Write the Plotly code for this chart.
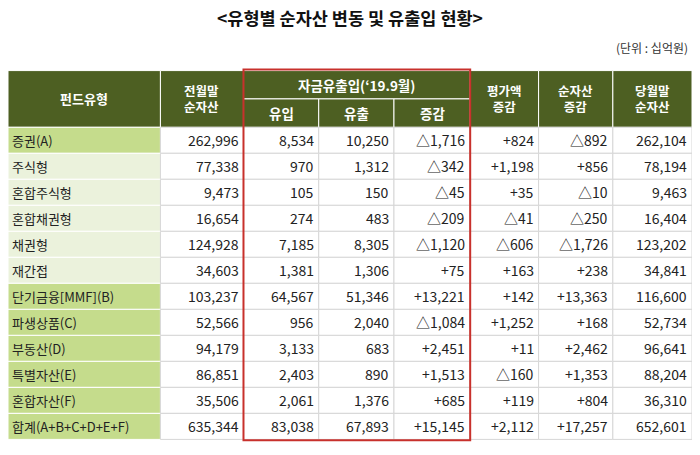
import plotly.graph_objects as go

title = "<유형별 순자산 변동 및 유출입 현황>"
unit = "(단위 : 십억원)"

fund_types = ["증권(A)", "주식형", "혼합주식형", "혼합채권형", "채권형", "재간접",
              "단기금융[MMF](B)", "파생상품(C)", "부동산(D)", "특별자산(E)",
              "혼합자산(F)", "합계(A+B+C+D+E+F)"]
is_main = [True, False, False, False, False, False, True, True, True, True, True, True]
prev_nav = ["262,996", "77,338", "9,473", "16,654", "124,928", "34,603",
            "103,237", "52,566", "94,179", "86,851", "35,506", "635,344"]
inflow = ["8,534", "970", "105", "274", "7,185", "1,381",
          "64,567", "956", "3,133", "2,403", "2,061", "83,038"]
outflow = ["10,250", "1,312", "150", "483", "8,305", "1,306",
           "51,346", "2,040", "683", "890", "1,376", "67,893"]
net_flow = ["△1,716", "△342", "△45", "△209", "△1,120", "+75",
            "+13,221", "△1,084", "+2,451", "+1,513", "+685", "+15,145"]
valuation = ["+824", "+1,198", "+35", "△41", "△606", "+163",
             "+142", "+1,252", "+11", "△160", "+119", "+2,112"]
nav_change = ["△892", "+856", "△10", "△250", "△1,726", "+238",
              "+13,363", "+168", "+2,462", "+1,353", "+804", "+17,257"]
curr_nav = ["262,104", "78,194", "9,463", "16,404", "123,202", "34,841",
            "116,600", "52,734", "96,641", "88,204", "36,310", "652,601"]

# layout in pixel space
xs = [0, 156, 241, 318, 395, 473, 543, 619, 700]
y_head_top, y_head_mid, y_head_bot = 64, 93, 122
row_h = 26.6
HEAD = "#4d5f22"
MAIN = "#c5dc8c"
SUB = "#ebf2dc"
FONT = "Noto Sans CJK KR"

fig = go.Figure()
shapes, ann = [], []

def rect(x0, y0, x1, y1, fill, line="#ffffff", w=1):
    shapes.append(dict(type="rect", x0=x0, x1=x1, y0=y0, y1=y1, fillcolor=fill,
                       line=dict(color=line, width=w), layer="below"))

def text(x, y, s, color="#222", size=13, anchor="center", bold=False):
    ann.append(dict(x=x, y=y, text=f"<b>{s}</b>" if bold else s, showarrow=False,
                    xanchor=anchor, yanchor="middle",
                    font=dict(family=FONT, size=size, color=color)))

# header
rect(xs[0], y_head_top, xs[1], y_head_bot, HEAD)
text((xs[0] + xs[1]) / 2, (y_head_top + y_head_bot) / 2, "펀드유형", "white", 13, bold=True)
rect(xs[1], y_head_top, xs[2], y_head_bot, HEAD)
text((xs[1] + xs[2]) / 2, (y_head_top + y_head_bot) / 2, "전월말<br>순자산", "white", 12.5, bold=True)
rect(xs[2], y_head_top, xs[5], y_head_mid, HEAD)
text((xs[2] + xs[5]) / 2, (y_head_top + y_head_mid) / 2, "자금유출입(‘19.9월)", "white", 13.5, bold=True)
for i, s in zip(range(2, 5), ["유입", "유출", "증감"]):
    rect(xs[i], y_head_mid, xs[i + 1], y_head_bot, HEAD)
    text((xs[i] + xs[i + 1]) / 2, (y_head_mid + y_head_bot) / 2, s, "white", 13.5, bold=True)
for i, s in zip(range(5, 8), ["평가액<br>증감", "순자산<br>증감", "당월말<br>순자산"]):
    rect(xs[i], y_head_top, xs[i + 1], y_head_bot, HEAD)
    text((xs[i] + xs[i + 1]) / 2, (y_head_top + y_head_bot) / 2, s, "white", 12.5, bold=True)

# body
cols = [prev_nav, inflow, outflow, net_flow, valuation, nav_change, curr_nav]
for r, name in enumerate(fund_types):
    y0 = y_head_bot + r * row_h
    y1 = y0 + row_h
    yc = (y0 + y1) / 2
    rect(xs[0], y0, xs[1], y1, MAIN if is_main[r] else SUB, "#ffffff")
    text(xs[0] + 2, yc, name, "#222", 13, "left")
    for c, col in enumerate(cols):
        rect(xs[c + 1], y0, xs[c + 2], y1, "white", "#d6d6d6")
        text(xs[c + 2] - 3, yc, col[r], "#222", 14, "right")

y_end = y_head_bot + len(fund_types) * row_h
shapes.append(dict(type="rect", x0=xs[2], x1=xs[5], y0=y_head_top - 1, y1=y_end + 1,
                   line=dict(color="#c8312c", width=2), fillcolor="rgba(0,0,0,0)"))

text(350, 10, title, "#111", 17.5, bold=True)
text(698, 40, unit, "#333", 12, "right")

fig.update_layout(
    width=684, height=440, margin=dict(l=0, r=0, t=0, b=0),
    paper_bgcolor="white", plot_bgcolor="white",
    xaxis=dict(range=[0, 700], visible=False, fixedrange=True),
    yaxis=dict(range=[450, 0], visible=False, fixedrange=True),
    shapes=shapes, annotations=ann, showlegend=False,
)
fig.write_html("out.html")
